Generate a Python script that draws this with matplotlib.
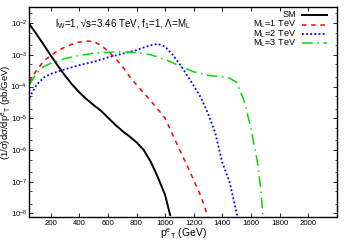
import numpy as np
import matplotlib
matplotlib.use('Agg')
import matplotlib.pyplot as plt
from matplotlib.ticker import LogLocator, NullFormatter

plt.rcParams['font.family'] = ['Liberation Sans', 'DejaVu Sans']
plt.rcParams['mathtext.fontset'] = 'custom'
plt.rcParams['mathtext.rm'] = 'Liberation Sans'
plt.rcParams['mathtext.it'] = 'Liberation Sans'

# SM background
x_sm = [50, 100, 150, 200, 250, 300, 350, 400, 450, 500, 550, 600, 650, 700,
        750, 800, 850, 900, 950, 1000, 1035]
y_sm = [9.3e-3, 4.5e-3, 2.1e-3, 9.5e-4, 4.5e-4, 2.2e-4, 1.15e-4, 6.5e-5, 4.0e-5,
        2.6e-5, 1.74e-5, 1.05e-5, 6.3e-6, 4.0e-6, 2.7e-6, 1.74e-6, 1.0e-6,
        4.2e-7, 1.35e-7, 3.8e-8, 8.9e-9]

# M_L = 1 TeV
x_m1 = [50, 100, 150, 200, 250, 300, 350, 400, 450, 500, 550, 600, 650, 700,
        750, 800, 850, 900, 950, 1000, 1050, 1100, 1150, 1200, 1250, 1300]
y_m1 = [1.4e-4, 3.2e-4, 6.3e-4, 9.5e-4, 1.35e-3, 1.75e-3, 2.15e-3, 2.5e-3, 2.7e-3,
        2.6e-3, 2.0e-3, 1.32e-3, 7.9e-4, 4.4e-4, 2.1e-4, 1.12e-4, 6.3e-5,
        3.5e-5, 1.9e-5, 1.0e-5, 3.2e-6, 1.05e-6, 3.5e-7, 1.12e-7, 3.5e-8, 7.9e-9]

# M_L = 2 TeV
x_m2 = [50, 100, 150, 200, 300, 400, 500, 600, 700, 800, 850, 900, 950, 1000,
        1050, 1100, 1150, 1200, 1250, 1300, 1350, 1400, 1450, 1505]
y_m2 = [4.4e-5, 1.12e-4, 1.9e-4, 2.5e-4, 3.5e-4, 4.7e-4, 6.0e-4, 8.3e-4, 1.07e-3,
        1.4e-3, 1.7e-3, 2.0e-3, 2.2e-3, 1.8e-3, 1.05e-3, 5.2e-4, 2.4e-4,
        1.05e-4, 4.5e-5, 1.4e-5, 3.5e-6, 4.0e-7, 1.0e-7, 8.5e-9]

# M_L = 3 TeV
x_m3 = [50, 100, 150, 200, 300, 400, 500, 600, 700, 800, 900, 1000, 1100, 1200,
        1300, 1400, 1450, 1500, 1550, 1600, 1650, 1670, 1685]
y_m3 = [1.12e-4, 2.6e-4, 4.2e-4, 5.4e-4, 7.6e-4, 9.5e-4, 1.12e-3, 1.2e-3, 1.23e-3,
        1.17e-3, 1.0e-3, 7.1e-4, 4.5e-4, 2.9e-4, 2.25e-4, 2.0e-4, 1.85e-4,
        1.35e-4, 3.8e-5, 5.0e-6, 3.2e-7, 5.0e-8, 7.9e-9]

labels = ['SM', r'M$_\mathregular{L}$=1 TeV', r'M$_\mathregular{L}$=2 TeV', r'M$_\mathregular{L}$=3 TeV']
colors = ['black', '#ff0000', '#0000ff', '#00dd00']
styles = ['-', (0, (3, 3)), (0, (1, 1.3)), (0, (7, 3, 1, 3))]
widths = [1.4, 1.1, 1.3, 1.1]

fig = plt.figure(figsize=(3.5, 2.45), dpi=100)
ax = fig.add_axes([0.0837, 0.1163, 0.962 - 0.0837, 0.9714 - 0.1163])

series = [(x_sm, y_sm), (x_m1, y_m1), (x_m2, y_m2), (x_m3, y_m3)]
for (xs, ys), c, ls, lw in zip(series, colors, styles, widths):
    ax.plot(xs, ys, color=c, linestyle=ls, linewidth=lw)

ax.set_yscale('log')
ax.set_xlim(50, 2200)
ax.set_ylim(8e-9, 3.2e-2)
ax.set_xticks(np.arange(200, 2001, 200))
ax.yaxis.set_major_locator(LogLocator(base=10, numticks=20))
ax.yaxis.set_minor_locator(LogLocator(base=10, subs=(2, 5), numticks=20))
ax.yaxis.set_minor_formatter(NullFormatter())
ax.tick_params(which='both', direction='in', top=True, right=True, labelsize=5.6)
ax.tick_params(which='major', length=3, width=0.6)
ax.tick_params(which='minor', length=1.8, width=0.5)
ax.tick_params(axis='x', pad=2.5)
ax.tick_params(axis='y', pad=1.5)
for s in ax.spines.values():
    s.set_linewidth(1.0)

ax.set_xlabel(r'p$^\mathregular{e}{}_\mathregular{T}$ (GeV)', fontsize=7.5)
ax.xaxis.set_label_coords(0.5, -0.05)
ax.set_ylabel(r'(1/$\sigma$)d$\sigma$/dp$^\mathregular{e}{}_\mathregular{T}$ (pb/GeV)', fontsize=6.8)
ax.yaxis.set_label_coords(-0.077, 0.5)
ax.yaxis.label.set_va('center')

ax.text(0.084, 0.919, r'l$_\mathregular{W}$=1, √s=3.46 TeV, f$_\mathregular{1}$=1, Λ=M$_\mathregular{L}$',
        transform=ax.transAxes, fontsize=7, va='center', ha='left')

# gnuplot-style key: right-aligned text, sample line after it
key_y = [0.962, 0.9165, 0.871, 0.826]
for lab, c, ls, lw, yy in zip(labels, colors, styles, widths, key_y):
    ax.text(0.867, yy, lab, transform=ax.transAxes, fontsize=6.6, ha='right', va='center')
    ax.plot([0.8855, 0.9693], [yy, yy], transform=ax.transAxes, color=c,
            linestyle=ls, linewidth=lw, clip_on=False)

fig.savefig('out.png', dpi=100)
